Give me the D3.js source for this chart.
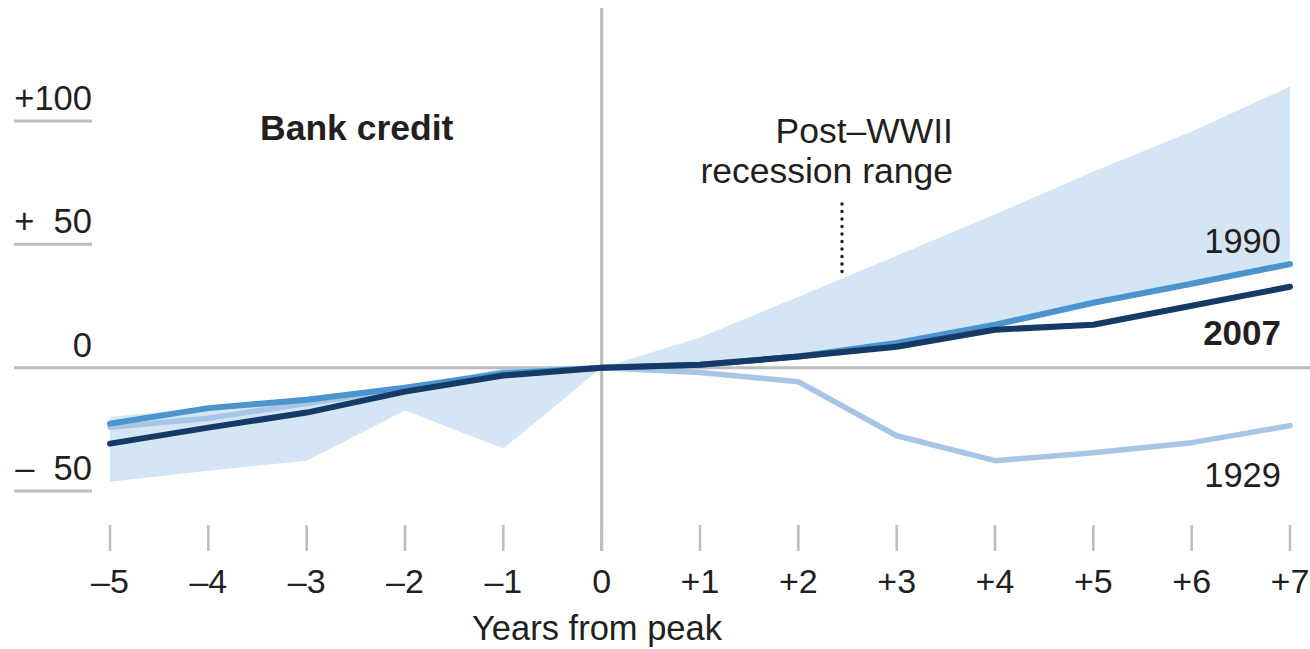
<!DOCTYPE html>
<html><head><meta charset="utf-8">
<script src="https://cdn.jsdelivr.net/npm/d3@7"></script>
<style>
html,body{margin:0;padding:0;background:#fff;}
text{font-family:"Liberation Sans",Arial,sans-serif;fill:#231f20;}
</style></head>
<body>
<svg id="chart" width="1310" height="649"></svg>
<script>
const years = [-5,-4,-3,-2,-1,0,1,2,3,4,5,6,7];
const yearLabels = ["–5","–4","–3","–2","–1","0","+1","+2","+3","+4","+5","+6","+7"];
const rangeUpper = [-19.9,-16.2,-12.2,-6.9,-1.2,0,12.2,28.8,45.4,62.2,79.5,95.7,114];
const rangeLower = [-46.2,-41.8,-37.7,-17.4,-32.8,0,0.8,4,9.4,16.8,25.6,33.4,41.5];
const s1990 = [-22.7,-16.4,-13.0,-8.1,-2.4,0,1.2,4.5,10,17.4,26.3,34,42];
const s2007 = [-30.8,-24.3,-18.2,-9.7,-3.2,0,1.2,4.5,8.5,15.4,17.4,25.1,32.8];
const s1929 = [-24.2,-20.5,-14.5,-8.6,-1.6,0,-2.0,-5.7,-27.6,-37.7,-34.5,-30.4,-23.5];
const yTicks = [100,50,0,-50];
const yTickLabels = ["+100","+  50","0","–  50"];

const svg = d3.select("#chart");
const x = d3.scaleLinear().domain([-5,7]).range([110,1290]);
const y = d3.scaleLinear().domain([-50,100]).range([491,121]);
const grey = "#bdbdbf";

svg.selectAll(".ytick").data(yTicks).enter().append("line")
  .attr("x1",14).attr("x2",d=>d===0?1310:92)
  .attr("y1",d=>y(d)).attr("y2",d=>y(d))
  .attr("stroke",grey).attr("stroke-width",3);
svg.selectAll(".ylab").data(yTicks).enter().append("text")
  .attr("x",92).attr("y",d=>y(d)-11).attr("text-anchor","end")
  .attr("font-size",34.5).style("white-space","pre")
  .text((d,i)=>yTickLabels[i]);

svg.append("line").attr("x1",x(0)).attr("x2",x(0)).attr("y1",8).attr("y2",551)
  .attr("stroke",grey).attr("stroke-width",3);

const area = d3.area().x((d,i)=>x(years[i])).y0((d,i)=>y(rangeLower[i])).y1(d=>y(d));
svg.append("path").datum(rangeUpper).attr("d",area).attr("fill","#d4e5f5");

const line = d3.line().x((d,i)=>x(years[i])).y(d=>y(d));
svg.append("path").datum(s1929).attr("d",line).attr("fill","none")
  .attr("stroke","#a9c5e6").attr("stroke-width",5.5).attr("stroke-linejoin","round").attr("stroke-linecap","round");
svg.append("path").datum(s1990).attr("d",line).attr("fill","none")
  .attr("stroke","#4b94cd").attr("stroke-width",6).attr("stroke-linejoin","round").attr("stroke-linecap","round");
svg.append("path").datum(s2007).attr("d",line).attr("fill","none")
  .attr("stroke","#163a66").attr("stroke-width",6).attr("stroke-linejoin","round").attr("stroke-linecap","round");

svg.selectAll(".xtick").data(years).enter().append("line")
  .attr("x1",d=>x(d)).attr("x2",d=>x(d)).attr("y1",525).attr("y2",551)
  .attr("stroke",grey).attr("stroke-width",2.5);
svg.selectAll(".xlab").data(years).enter().append("text")
  .attr("x",d=>x(d)).attr("y",593).attr("text-anchor","middle").attr("font-size",34)
  .text((d,i)=>yearLabels[i]);
svg.append("text").attr("x",597).attr("y",640).attr("text-anchor","middle")
  .attr("font-size",34.5).text("Years from peak");

svg.append("text").attr("x",260).attr("y",140).attr("font-size",35.5).attr("font-weight","bold").text("Bank credit");
svg.append("text").attr("x",953).attr("y",143).attr("text-anchor","end").attr("font-size",35.5).text("Post–WWII");
svg.append("text").attr("x",953).attr("y",183).attr("text-anchor","end").attr("font-size",35.5).text("recession range");
svg.append("line").attr("x1",842).attr("x2",842).attr("y1",204).attr("y2",273)
  .attr("stroke","#231f20").attr("stroke-width",3.5).attr("stroke-dasharray","0,7.5").attr("stroke-linecap","round");
svg.append("text").attr("x",1281).attr("y",253).attr("text-anchor","end").attr("font-size",34.5).text("1990");
svg.append("text").attr("x",1281).attr("y",345).attr("text-anchor","end").attr("font-size",35).attr("font-weight","bold").text("2007");
svg.append("text").attr("x",1281).attr("y",487).attr("text-anchor","end").attr("font-size",34.5).text("1929");
</script>
</body></html>
